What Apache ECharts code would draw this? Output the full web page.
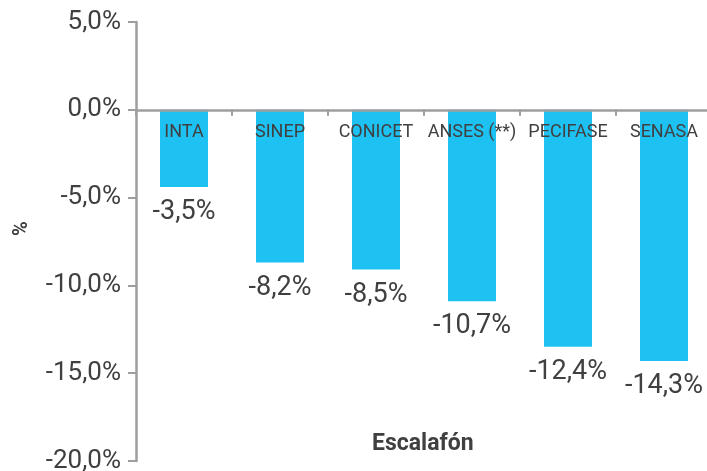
<!DOCTYPE html>
<html>
<head>
<meta charset="utf-8">
<script src="https://cdn.jsdelivr.net/npm/echarts@6/dist/echarts.min.js"></script>
<style>
html,body{margin:0;padding:0;background:#fff;}
#chart{width:707px;height:471px;}
</style>
</head>
<body>
<div id="chart"></div>
<script>
// Categories (escalafones)
const categories = ['INTA', 'SINEP', 'CONICET', 'ANSES (**)', 'PECIFASE', 'SENASA'];
// Bar lengths as drawn in the reference (%)
const barValues = [-4.4, -8.7, -9.1, -10.9, -13.5, -14.3];
// Value labels as printed in the reference
const valueLabels = ['-3,5%', '-8,2%', '-8,5%', '-10,7%', '-12,4%', '-14,3%'];
// Y axis range / ticks
const yMin = -20, yMax = 5, yInterval = 5;

const textColor = '#404040';
const axisColor = '#9e9e9e';
const font = 'Roboto';

const gridTop = 22, gridBottom = 10, chartH = 471;
// distance from grid top to the zero line, derived from the axis range
const zeroOffset = (chartH - gridTop - gridBottom) * (yMax - 0) / (yMax - yMin);

const chart = echarts.init(document.getElementById('chart'), null, {renderer: 'canvas'});
chart.setOption({
  animation: false,
  backgroundColor: '#ffffff',
  title: {
    text: 'Escalafón',
    left: 372, top: 433, padding: 0,
    textStyle: {fontFamily: font, fontSize: 23, fontWeight: 'bold', color: textColor}
  },
  grid: {left: 136, right: -5, top: gridTop, bottom: gridBottom, containLabel: false, outerBoundsMode: 'none'},
  xAxis: {
    type: 'category',
    data: categories,
    position: 'top',
    offset: -zeroOffset,
    z: 10,
    axisLine: {onZero: false, lineStyle: {color: axisColor, width: 2.5}},
    axisTick: {show: true, inside: true, length: 6, lineStyle: {color: axisColor, width: 2}},
    axisLabel: {fontFamily: font, fontSize: 18, color: textColor, inside: true, margin: 14, interval: 0},
    splitLine: {show: false}
  },
  yAxis: {
    type: 'value',
    min: yMin, max: yMax, interval: yInterval,
    name: '%',
    nameLocation: 'middle',
    nameGap: 104,
    nameRotate: 90,
    nameTextStyle: {fontFamily: font, fontSize: 20, fontWeight: 'bold', color: textColor, padding: [0, 0, 0, 26]},
    axisLine: {show: true, lineStyle: {color: axisColor, width: 2.5}},
    axisTick: {show: true, length: 8, lineStyle: {color: axisColor, width: 2}},
    axisLabel: {
      fontFamily: font, fontSize: 26, color: textColor, margin: 15, padding: [6, 0, 0, 0],
      formatter: v => v.toFixed(1).replace('.', ',') + '%'
    },
    splitLine: {show: false}
  },
  series: [{
    type: 'bar',
    data: barValues,
    barWidth: '50%',
    itemStyle: {color: '#1DC1F2'},
    z: 1,
    label: {
      show: true,
      position: 'bottom',
      distance: 12,
      fontFamily: font,
      fontSize: 27,
      color: textColor,
      formatter: p => valueLabels[p.dataIndex]
    }
  }]
});
</script>
</body>
</html>
